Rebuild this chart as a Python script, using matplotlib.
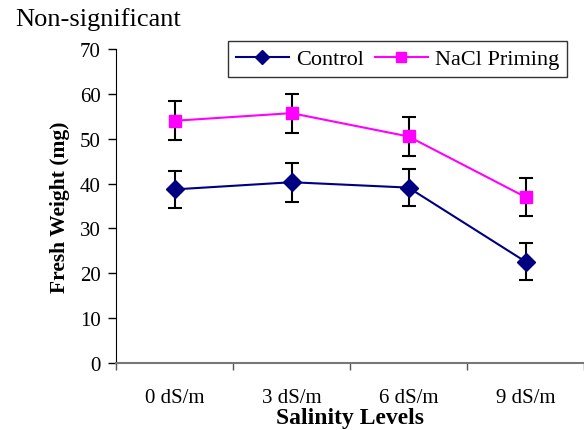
import matplotlib
matplotlib.use("Agg")
import matplotlib.pyplot as plt
import numpy as np
from matplotlib.lines import Line2D

categories = ["0 dS/m", "3 dS/m", "6 dS/m", "9 dS/m"]
control = [38.7, 40.3, 39.1, 22.6]
control_err = [4.2, 4.35, 4.1, 4.1]
nacl = [54.0, 55.7, 50.5, 37.0]
nacl_err = [4.3, 4.35, 4.3, 4.3]
yticks = [0, 10, 20, 30, 40, 50, 60, 70]
series_labels = ["Control", "NaCl Priming"]

plt.rcParams['font.family'] = ['Liberation Serif', 'DejaVu Serif']

fig = plt.figure(figsize=(5.84, 4.31), dpi=100)
ax = fig.add_axes([116/584, 1-364/431, 1-116/584, (364-50)/431])

x = np.arange(len(categories))
ax.errorbar(x, control, yerr=control_err, color='#000080', marker='D', markersize=9,
            lw=1.5, ecolor='black', elinewidth=1.5, capsize=5, capthick=1.5,
            zorder=3)
ax.errorbar(x, nacl, yerr=nacl_err, color='#FF00FF', marker='s', markersize=8,
            lw=1.5, ecolor='black', elinewidth=1.5, capsize=5, capthick=1.5,
            zorder=3)

ax.set_xlim(-0.5, len(categories) - 0.5)
ax.set_ylim(0, 70)
ax.set_yticks(yticks)
ax.set_xticks(x)
ax.set_xticklabels(categories)
ax.set_xticks(np.arange(-0.5, len(categories) - 0.4, 1), minor=True)
ax.tick_params(axis='x', which='major', length=0, pad=18, labelsize=15)
ax.tick_params(axis='x', which='minor', length=5, width=1, color='#555555')
ax.tick_params(axis='y', length=6, width=1, labelsize=15, pad=5)

for s in ['top', 'right']:
    ax.spines[s].set_visible(False)
ax.spines['left'].set_color('black')
ax.spines['bottom'].set_color('#777777')
ax.spines['bottom'].set_linewidth(1.5)

ax.set_ylabel('Fresh Weight (mg)', fontsize=15.5, fontweight='bold', labelpad=7)
ax.set_xlabel('Salinity Levels', fontsize=17, fontweight='bold', labelpad=0)

h = [Line2D([], [], color='#000080', marker='D', markersize=7, lw=1.5),
     Line2D([], [], color='#FF00FF', marker='s', markersize=7, lw=1.5)]
leg = ax.legend(h, series_labels, ncol=2, loc='upper left', bbox_to_anchor=(112/468, 1.025),
                fontsize=16, frameon=True, fancybox=False, edgecolor='black',
                handlelength=2.4, columnspacing=0.5, handletextpad=0.3, borderpad=0.35,
                borderaxespad=0)
leg.get_frame().set_linewidth(1)

fig.text(15/584, 1-20/431, 'Non-significant', fontsize=19, va='center', ha='left')

fig.savefig('out.png', dpi=100)
